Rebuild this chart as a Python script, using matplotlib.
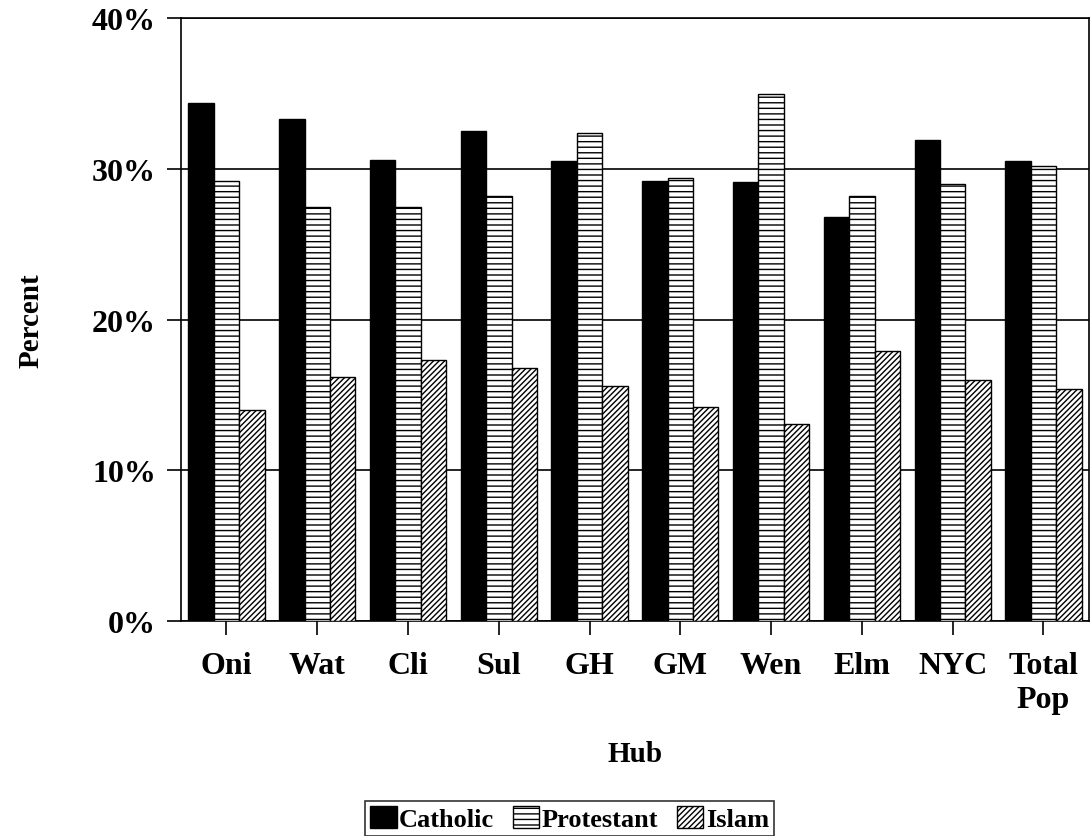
import numpy as np
import matplotlib.pyplot as plt
from matplotlib.ticker import PercentFormatter

# --- DATA ---
hubs = ["Oni", "Wat", "Cli", "Sul", "GH", "GM", "Wen", "Elm", "NYC", "Total\nPop"]
catholic = [34.4, 33.3, 30.6, 32.5, 30.5, 29.2, 29.1, 26.8, 31.9, 30.5]
protestant = [29.2, 27.5, 27.5, 28.2, 32.4, 29.4, 35.0, 28.2, 29.0, 30.2]
islam = [14.0, 16.2, 17.3, 16.8, 15.6, 14.2, 13.1, 17.9, 16.0, 15.4]

plt.rcParams['font.family'] = ['Liberation Serif', 'DejaVu Serif']
plt.rcParams['font.weight'] = 'bold'
plt.rcParams['hatch.linewidth'] = 1.0

fig = plt.figure(figsize=(10.91, 8.37), dpi=100)
ax = fig.add_axes([0.166, 0.257, 0.832, 0.72])

x = np.arange(len(hubs))
w = 0.28
ax.bar(x - w, catholic, w, color='black', edgecolor='black', label='Catholic', zorder=3)
ax.bar(x, protestant, w, color='white', edgecolor='black', hatch='---', label='Protestant', zorder=3)
ax.bar(x + w, islam, w, color='white', edgecolor='black', hatch='//////', label='Islam', zorder=3)

ax.set_ylim(0, 40)
ax.set_xlim(-0.5, len(hubs) - 0.5)
ax.set_yticks([0, 10, 20, 30, 40])
ax.yaxis.set_major_formatter(PercentFormatter(decimals=0))
ax.yaxis.grid(True, color='black', linewidth=1.2, zorder=0)
for s in ax.spines.values():
    s.set_linewidth(1.2)

ax.set_xticks(x)
ax.set_xticklabels(hubs, linespacing=1.2)
ax.tick_params(axis='both', labelsize=23, width=1.2, length=10, direction='out')
ax.tick_params(axis='x', pad=12)
ax.tick_params(axis='y', pad=8)

ax.set_xlabel("Hub", fontsize=21, fontweight='bold', labelpad=19)
ax.set_ylabel("Percent", fontsize=21, fontweight='bold', labelpad=34)

leg = fig.legend(loc='center', bbox_to_anchor=(0.522, 0.021), ncol=3, fontsize=19,
                 frameon=True, fancybox=False, edgecolor='black', handlelength=1.0,
                 handleheight=0.9, handletextpad=0.1, columnspacing=0.7,
                 borderpad=0.2, borderaxespad=0)
leg.get_frame().set_linewidth(1.2)

fig.savefig("out.png", dpi=100)
